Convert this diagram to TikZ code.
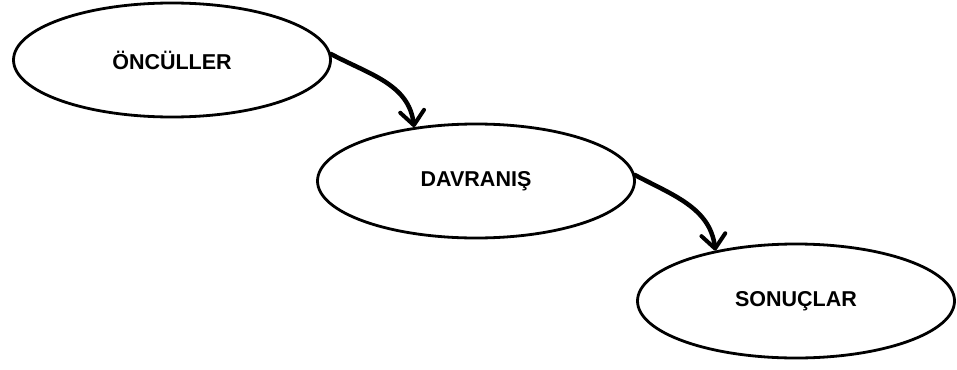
\documentclass[tikz,border=0pt]{standalone}
\usepackage{fontspec}
\setmainfont{Liberation Sans}
\usetikzlibrary{shapes.geometric,arrows.meta}
\begin{document}
\begin{tikzpicture}[x=1pt,y=1pt,
  stage/.style={ellipse,draw=black,line width=2.8pt,minimum width=317pt,minimum height=114pt,
    inner sep=0pt,font=\fontsize{21.5}{26}\selectfont\bfseries,text=black},
  flow/.style={line width=4.5pt,line cap=round,
    -{Straight Barb[length=14pt,width=24pt,line width=4pt,round]}}]
\useasboundingbox[fill=white] (0,0) rectangle (957,-369);
\node[stage] (pre) at (172,-60) {ÖNCÜLLER};
\node[stage] (beh) at (476,-181) {DAVRANIŞ};
\node[stage] (con) at (796,-301) {SONUÇLAR};
\draw[flow] ([shift={(-1pt,6pt)}]pre.east) to[out=-28,in=97] (beh.139);
\draw[flow] ([shift={(-1pt,6pt)}]beh.east) to[out=-28,in=97] (con.148);
\end{tikzpicture}
\end{document}
